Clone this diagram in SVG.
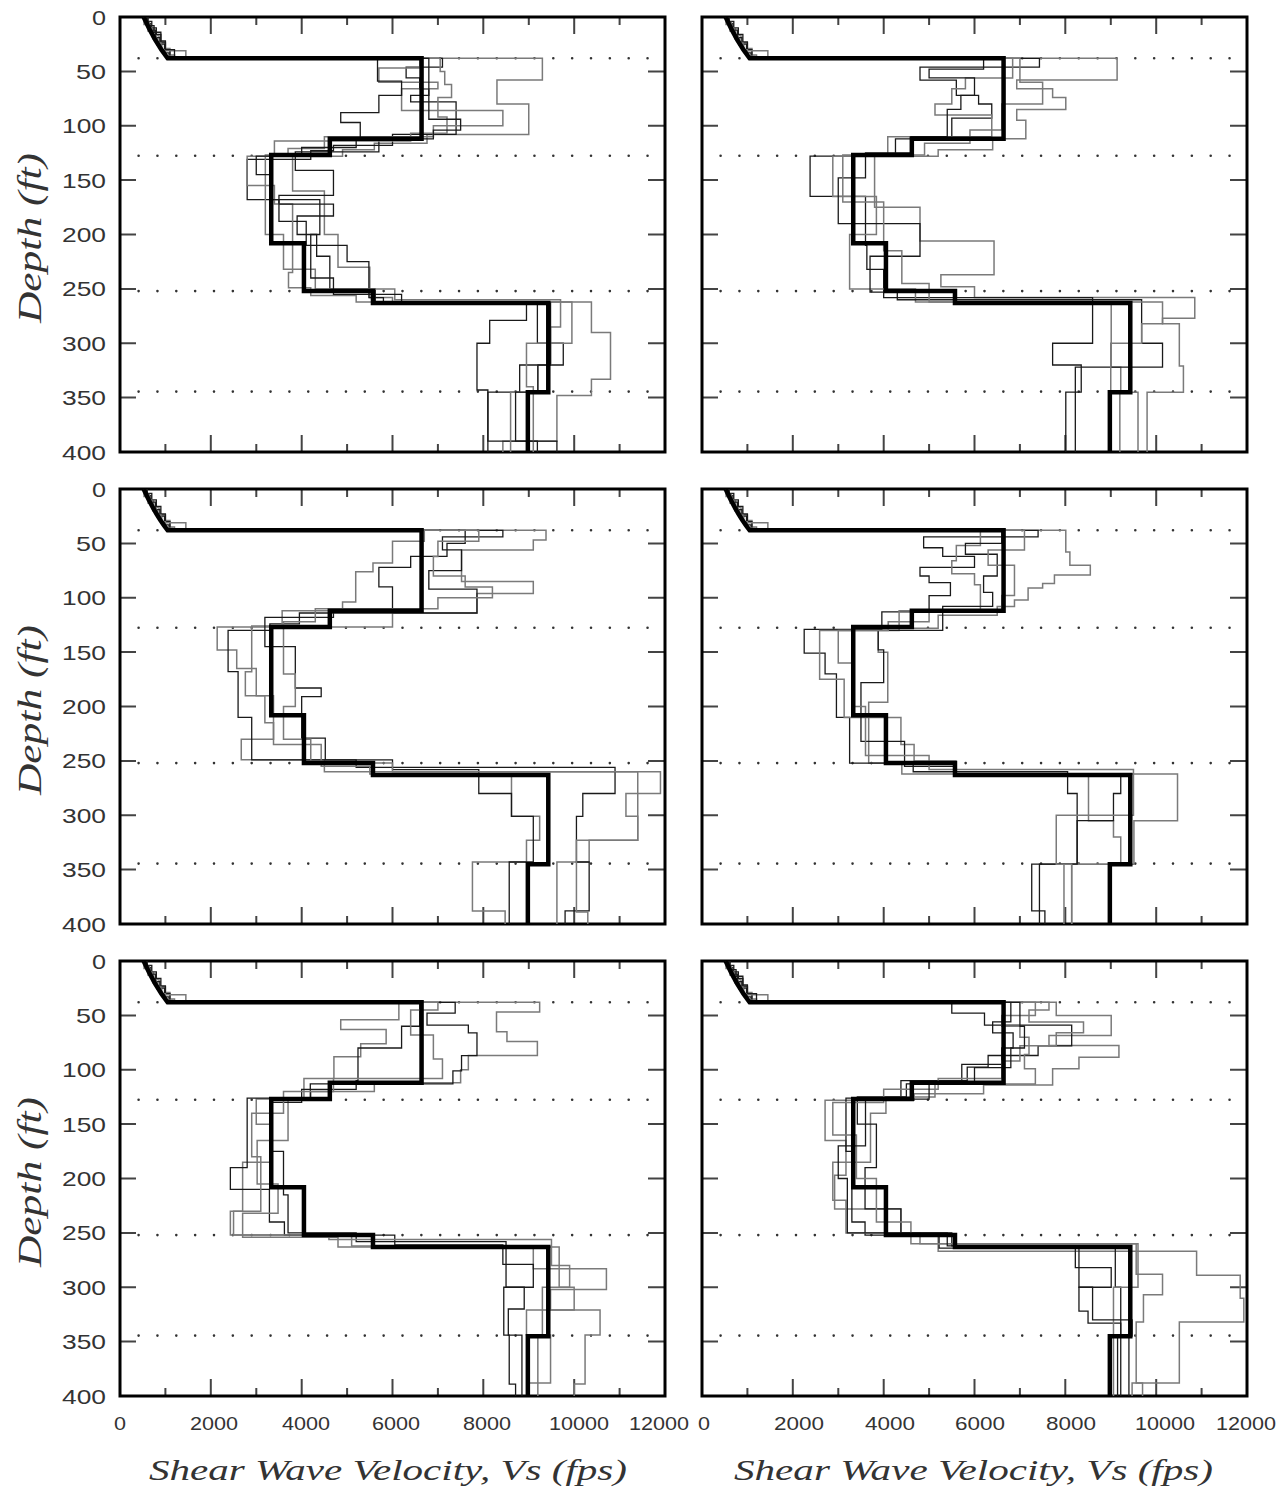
<svg xmlns="http://www.w3.org/2000/svg" xmlns:xlink="http://www.w3.org/1999/xlink" width="1286" height="1492" viewBox="0 0 1286 1492">
<style>
.border{fill:none;stroke:#000;stroke-width:3}
.tick{fill:none;stroke:#444;stroke-width:2}
.dots{fill:none;stroke:#333;stroke-width:2.6;stroke-linecap:round;stroke-dasharray:0 18.85}
.thin{fill:none;stroke:#1a1a1a;stroke-width:1.3;vector-effect:non-scaling-stroke}
.gray{fill:none;stroke:#7a7a7a;stroke-width:1.5;vector-effect:non-scaling-stroke}
.base{fill:none;stroke:#000;stroke-width:4.5;vector-effect:non-scaling-stroke}
.ylab{font-family:"Liberation Sans",Arial,sans-serif;font-size:21px;fill:#333;text-anchor:end}
.xlab{font-family:"Liberation Sans",Arial,sans-serif;font-size:19px;fill:#333;text-anchor:middle}
.title{font-family:"Liberation Serif","Times New Roman",serif;font-style:italic;fill:#333}
</style>
<defs>
<g id="frame">
<line class="dots" x1="18.6" y1="41.3" x2="528" y2="41.3"/>
<line class="dots" x1="18.6" y1="138.7" x2="528" y2="138.7"/>
<line class="dots" x1="18.6" y1="274.1" x2="528" y2="274.1"/>
<line class="dots" x1="18.6" y1="374.6" x2="528" y2="374.6"/>
<path class="tick" d="M45.4 0v8M90.8 0v17M136.3 0v8M181.7 0v17M227.1 0v8M272.5 0v17M317.9 0v8M363.3 0v17M408.8 0v8M454.2 0v17M499.6 0v8"/>
<path class="tick" d="M45.4 435v-8M90.8 435v-17M136.3 435v-8M181.7 435v-17M227.1 435v-8M272.5 435v-17M317.9 435v-8M363.3 435v-17M408.8 435v-8M454.2 435v-17M499.6 435v-8"/>
<path class="tick" d="M0 54.4h16M0 108.8h16M0 163.1h16M0 217.5h16M0 271.9h16M0 326.3h16M0 380.6h16"/>
<path class="tick" d="M545 54.4h-17M545 108.8h-17M545 163.1h-17M545 217.5h-17M545 271.9h-17M545 326.3h-17M545 380.6h-17"/>
<rect class="border" x="0" y="0" width="545" height="435"/>
</g>
<path id="base" class="base" d="M5.2 0C6.5 12 8.6 28 10.5 38H66.4V112H46.2V127H33.3V208H40.5V252H55.7V263H94.3V345H89.8V400"/>
</defs>
<rect width="1286" height="1492" fill="#fff"/>

<g id="panel-top-left" transform="translate(120,17)">
<use xlink:href="#frame"/>
<g transform="scale(4.5417,1.0875)">
<path class="gray" d="M5.6 0V5H6.4V11H7.4V17H8.6V24H10V29H11V35H12V38H93V58H83V80H90V108H67.6V116H56V122H49V128H38V160H45V200H48V230H55V258H60V262H103.8V290H108V333H103.8V348H96.2V390H84.3V400"/>
<path class="thin" d="M6 0V4H7V10H8V16H9V23H10V30H11V38H71V46H63V56H66V66H68V72H64V78H74V108H60V118H47V123H42V131H28V168H35V188H41V210H50V225H54.8V258H58V262H91.9V300H97.6V320H88V345H81V390H91.9V400"/>
<path class="gray" d="M5.3 0V7H6.2V13H7.2V20H8.2V26H9.2V31H14.5V38H66V47H57V60H70V66H62V86H84.3V100H69V110H45V121H37V128H28V155H34V172H38V235H37.1V249H42V256H52V262H99.5V300H89.5V340H91V400"/>
<path class="thin" d="M5.8 0V6H6.8V12H7.8V19H8.8V25H9.8V33H10.8V38H56.7V59H62V72H57V88H48.6V97H52.9V112H57V124H38.6V141H47V164H35V172H47V183H39V200H43.3V220H46.2V250H56.2V262H89.5V279H81.4V300H78.6V343H81V400"/>
<path class="gray" d="M5.4 0V5H6.5V10H7V18H8V24H9V30H10V36H11.5V38H70.5V50H71.5V62H73V74H70V92H72V107H64V114H34V127H32V200H36V232H43V250H60.5V260H97V285H94.8V320H92V345H86V400"/>
<path class="thin" d="M6.2 0V8H7.5V14H9V22H10V30H12V38H68V94H75V104H69V112H52V120H40V128H30V145H33V168H44V200H42V240H47V255H62V263H94.8V320H92V345H87.1V390H96.2V400"/>
<use xlink:href="#base"/>
</g>
</g>

<g id="panel-top-right" transform="translate(702,17)">
<use xlink:href="#frame"/>
<g transform="scale(4.5417,1.0875)">
<path class="gray" d="M5.6 0V5H6.4V11H7.4V17H8.6V24H10V29H11V35H12V38H91.4V58H69.3V66H77.2V74H80.1V85H69.3V95H71.3V112H64V122H52V128H38V175H48V206H64.3V237H52.6V248H60V258H108.5V277H101.4V282H105.1V321H106V345H98V400"/>
<path class="thin" d="M6 0V4H7V10H8V16H9V23H10V30H11V38H74.3V46H48V58H56V72H60.9V80H63.8V93H55V112H42.6V128H23.8V165H36V210H36.3V232H40V258H86V300H77.2V320H83.5V345H80.1V400"/>
<path class="gray" d="M5.3 0V7H6.2V13H7.2V20H8.2V26H9.2V31H14.5V38H68.4V56H58V66H55V80H51.3V90H63.8V110H40.9V128H28.8V165H38.4V200H32.5V250H47V262H90.1V322H92.2V345H96V400"/>
<path class="thin" d="M5.8 0V6H6.8V12H7.8V19H8.8V25H9.8V33H10.8V38H62V48H50V56H60V72H57V85H54V110H46V125H36V148H30V190H48V220H37V253H43V260H96.8V300H101.4V322H82.2V400"/>
<path class="gray" d="M5.4 0V5H6.5V10H7V18H8V24H9V30H10V36H11.5V38H70V60H75V80H66V104H59V116H49V127H31V170H40V215H44V245H50V262H101.4V282H96.8V300H90V345H92V400"/>
<use xlink:href="#base"/>
</g>
</g>

<g id="panel-middle-left" transform="translate(120,489)">
<use xlink:href="#frame"/>
<g transform="scale(4.5417,1.0875)">
<path class="gray" d="M5.6 0V5H6.4V11H7.4V17H8.6V24H10V29H11V35H12V38H93.8V47H91V56H75.2V85H91V96H78.6V114H60V127H21.4V148H25.7V165H30V190H33.8V230H26.7V249H45V260H119V280H111.4V301H114V323H103.3V343H96.2V400"/>
<path class="thin" d="M6 0V4H7V10H8V16H9V23H10V30H11V38H84.3V44H71V56H75.2V75H68V92H78.6V114H39.5V124H33V130H23.8V168H26V210H29V249H52V256H109V280H101.9V301H100.5V343H103.3V388H98V400"/>
<path class="gray" d="M5.3 0V7H6.2V13H7.2V20H8.2V26H9.2V31H14.5V38H67V48H60V68H55.7V76H51.9V104H49V112H35.7V126H29V168H27.6V190H31.9V215H33.8V235H44.3V255H55V262H86.2V301H92.4V323H89.5V343H77.6V388H84.8V400"/>
<path class="thin" d="M5.8 0V6H6.8V12H7.8V19H8.8V25H9.8V33H10.8V38H76V50H72V62H64V72H57V90H60V110H47V118H31.9V145H38.6V183H44.3V191H40V229H45.2V249H60V258H79V280H86.2V301H91V343H85.7V400"/>
<path class="gray" d="M5.4 0V5H6.5V10H7V18H8V24H9V30H10V36H11.5V38H79V48H70V62H69V80H76V90H82V100H70V110H43V122H36V170H38.6V200H36V230H42V252H60V260H114V323H100.5V389H103V400"/>
<use xlink:href="#base"/>
</g>
</g>

<g id="panel-middle-right" transform="translate(702,489)">
<use xlink:href="#frame"/>
<g transform="scale(4.5417,1.0875)">
<path class="gray" d="M5.6 0V5H6.4V11H7.4V17H8.6V24H10V29H11V35H12V38H80.1V58H81V70H85.5V79H77.6V87H75V91H71.8V102H68.8V108H65V116H52V128H38.8V150H40.9V196H36.7V252H44V262H104.7V305H95.1V345H81.4V400"/>
<path class="thin" d="M6 0V4H7V10H8V16H9V23H10V30H11V38H74V44H48.8V54H53V62H60V72H48V80H50V86H54.7V98H50V113H39.6V129H22.5V151H27.1V170H29.6V210H32.5V252H46.5V260H80.5V280H82.6V345H72.6V388H75.5V400"/>
<path class="gray" d="M5.3 0V7H6.2V13H7.2V20H8.2V26H9.2V31H14.5V38H61.3V52H56V66H55V78H60V88H61.3V112H43.4V130H25.9V175H31.3V210H43.8V235H46.7V250H55.9V262H85.1V305H90.6V320H92.2V345H79.7V400"/>
<path class="thin" d="M5.8 0V6H6.8V12H7.8V19H8.8V25H9.8V33H10.8V38H66V50H58V60H65V80H62V95H64V108H53V130H38.8V148H40V178H35V232H44.6V255H55.9V264H92.2V280H90.6V305H82.6V345H74.3V400"/>
<path class="gray" d="M5.4 0V5H6.5V10H7V18H8V24H9V30H10V36H11.5V38H71V56H63V70H68.8V98H66V112H50V122H41V130H30V160H33V200H36V245H50V258H95V300H78V345H81.4V400"/>
<use xlink:href="#base"/>
</g>
</g>

<g id="panel-bottom-left" transform="translate(120,961)">
<use xlink:href="#frame"/>
<g transform="scale(4.5417,1.0875)">
<path class="gray" d="M5.6 0V5H6.4V11H7.4V17H8.6V24H10V29H11V35H12V38H92.4V47H82.9V65H85.2V74H91.9V87H76.7V100H75V112H56V120H42V127H30V150H33V185H27V230H24.3V252H51V262H91V283H107.1V302H94.8V321H105.7V344H102.4V389H100V400"/>
<path class="thin" d="M6 0V4H7V10H8V16H9V23H10V30H11V38H73.8V48H67.6V59H76.7V66H78.6V87H75.2V101H73.3V113H41.9V126H28V190H24.3V210H32.9V240H36.2V252H60.5V261H84.3V279H91V300H84.5V344H85.7V389H87.1V400"/>
<path class="gray" d="M5.3 0V7H6.2V13H7.2V20H8.2V26H9.2V31H14.5V38H61.4V54H48.6V63H58.6V76H53V88H47.1V108H40.5V126H37V165H30.2V205H34.8V232H27V254H48V263H96.7V300H100V321H89.5V344H94.8V388H90V400"/>
<path class="thin" d="M5.8 0V6H6.8V12H7.8V19H8.8V25H9.8V33H10.8V38H66V60H62V80H52.4V110H52V118H40V130H33V175H36V215H37V250H52V258H85V300H89V320H85.5V344H88.5V400"/>
<path class="gray" d="M5.4 0V5H6.5V10H7V18H8V24H9V30H10V36H11.5V38H70V45H64V68H69V90H71V108H47V120H36V140H29V180H31V230H25V252H46V256H95V280H99V300H93V344H92V400"/>
<use xlink:href="#base"/>
</g>
</g>

<g id="panel-bottom-right" transform="translate(702,961)">
<use xlink:href="#frame"/>
<g transform="scale(4.5417,1.0875)">
<path class="gray" d="M5.6 0V5H6.4V11H7.4V17H8.6V24H10V29H11V35H12V38H78V50H90.1V68.5H76.4V77.7H91.8V88.4H83V99H77.2V114H62V122H46.7V128H27.1V165H31.7V197H29.2V228H43.8V252H52V267H108.9V289H118.5V310H119.3V332H105.1V388H94.7V400"/>
<path class="thin" d="M6 0V4H7V10H8V16H9V23H10V30H11V38H55V48H62.2V59H81.4V78H74V86.9H63V97.5H58.4V110H43.8V126H31.7V175H33V240H35.9V252H52.2V264H82.2V282H90.1V300H83V322H85V333H92.2V400"/>
<path class="gray" d="M5.3 0V7H6.2V13H7.2V20H8.2V26H9.2V31H14.5V38H73.4V50H66V60H70V70H72V86H71V99H73.4V113H51.3V125H40.5V140H37.1V185H28.8V220H31.7V250H48V260H95.6V288H101.4V307H97.2V332H95.6V388H97V400"/>
<path class="thin" d="M5.8 0V6H6.8V12H7.8V19H8.8V25H9.8V33H10.8V38H68V56H64V66H68.5V80H66V95H57.2V113H45V125H34.2V150H38.4V190H35.9V228H43.8V250H55V262H91V300H92.2V345H91.5V400"/>
<path class="gray" d="M5.4 0V5H6.5V10H7V18H8V24H9V30H10V36H11.5V38H76.4V45H72V56H84V66H78V78H70V92H66V108H52V118H40V130H28.8V160H34V200H38.4V240H46V260H96V300H90.6V400"/>
<path class="thin" d="M6.2 0V8H7.5V14H9V22H10V30H12V38H70V60H71V80H68V98H60V112H50V127H36V170H30V200H32V250H54V262H83V300H86V330H94.7V345H94V400"/>
<use xlink:href="#base"/>
</g>
</g>

<g id="y-labels">
<text class="ylab" x="106" y="24.5" textLength="14" lengthAdjust="spacingAndGlyphs">0</text>
<text class="ylab" x="106" y="78.9" textLength="30" lengthAdjust="spacingAndGlyphs">50</text>
<text class="ylab" x="106" y="133.3" textLength="44" lengthAdjust="spacingAndGlyphs">100</text>
<text class="ylab" x="106" y="187.6" textLength="44" lengthAdjust="spacingAndGlyphs">150</text>
<text class="ylab" x="106" y="242" textLength="44" lengthAdjust="spacingAndGlyphs">200</text>
<text class="ylab" x="106" y="296.4" textLength="44" lengthAdjust="spacingAndGlyphs">250</text>
<text class="ylab" x="106" y="350.8" textLength="44" lengthAdjust="spacingAndGlyphs">300</text>
<text class="ylab" x="106" y="405.1" textLength="44" lengthAdjust="spacingAndGlyphs">350</text>
<text class="ylab" x="106" y="459.5" textLength="44" lengthAdjust="spacingAndGlyphs">400</text>
<text class="ylab" x="106" y="496.5" textLength="14" lengthAdjust="spacingAndGlyphs">0</text>
<text class="ylab" x="106" y="550.9" textLength="30" lengthAdjust="spacingAndGlyphs">50</text>
<text class="ylab" x="106" y="605.3" textLength="44" lengthAdjust="spacingAndGlyphs">100</text>
<text class="ylab" x="106" y="659.6" textLength="44" lengthAdjust="spacingAndGlyphs">150</text>
<text class="ylab" x="106" y="714" textLength="44" lengthAdjust="spacingAndGlyphs">200</text>
<text class="ylab" x="106" y="768.4" textLength="44" lengthAdjust="spacingAndGlyphs">250</text>
<text class="ylab" x="106" y="822.8" textLength="44" lengthAdjust="spacingAndGlyphs">300</text>
<text class="ylab" x="106" y="877.1" textLength="44" lengthAdjust="spacingAndGlyphs">350</text>
<text class="ylab" x="106" y="931.5" textLength="44" lengthAdjust="spacingAndGlyphs">400</text>
<text class="ylab" x="106" y="968.5" textLength="14" lengthAdjust="spacingAndGlyphs">0</text>
<text class="ylab" x="106" y="1022.9" textLength="30" lengthAdjust="spacingAndGlyphs">50</text>
<text class="ylab" x="106" y="1077.3" textLength="44" lengthAdjust="spacingAndGlyphs">100</text>
<text class="ylab" x="106" y="1131.6" textLength="44" lengthAdjust="spacingAndGlyphs">150</text>
<text class="ylab" x="106" y="1186" textLength="44" lengthAdjust="spacingAndGlyphs">200</text>
<text class="ylab" x="106" y="1240.4" textLength="44" lengthAdjust="spacingAndGlyphs">250</text>
<text class="ylab" x="106" y="1294.8" textLength="44" lengthAdjust="spacingAndGlyphs">300</text>
<text class="ylab" x="106" y="1349.1" textLength="44" lengthAdjust="spacingAndGlyphs">350</text>
<text class="ylab" x="106" y="1403.5" textLength="44" lengthAdjust="spacingAndGlyphs">400</text>
</g>

<g id="x-labels">
<text class="xlab" x="120" y="1430" textLength="12" lengthAdjust="spacingAndGlyphs">0</text>
<text class="xlab" x="214" y="1430" textLength="48" lengthAdjust="spacingAndGlyphs">2000</text>
<text class="xlab" x="306" y="1430" textLength="48" lengthAdjust="spacingAndGlyphs">4000</text>
<text class="xlab" x="396" y="1430" textLength="48" lengthAdjust="spacingAndGlyphs">6000</text>
<text class="xlab" x="487" y="1430" textLength="48" lengthAdjust="spacingAndGlyphs">8000</text>
<text class="xlab" x="579" y="1430" textLength="60" lengthAdjust="spacingAndGlyphs">10000</text>
<text class="xlab" x="659" y="1430" textLength="60" lengthAdjust="spacingAndGlyphs">12000</text>
<text class="xlab" x="704" y="1430" textLength="12" lengthAdjust="spacingAndGlyphs">0</text>
<text class="xlab" x="799" y="1430" textLength="50" lengthAdjust="spacingAndGlyphs">2000</text>
<text class="xlab" x="890" y="1430" textLength="50" lengthAdjust="spacingAndGlyphs">4000</text>
<text class="xlab" x="980" y="1430" textLength="50" lengthAdjust="spacingAndGlyphs">6000</text>
<text class="xlab" x="1071" y="1430" textLength="50" lengthAdjust="spacingAndGlyphs">8000</text>
<text class="xlab" x="1165" y="1430" textLength="60" lengthAdjust="spacingAndGlyphs">10000</text>
<text class="xlab" x="1246" y="1430" textLength="60" lengthAdjust="spacingAndGlyphs">12000</text>
</g>

<g id="axis-titles">
<text class="title" x="149" y="1480" font-size="29" textLength="478" lengthAdjust="spacingAndGlyphs">Shear Wave Velocity, Vs (fps)</text>
<text class="title" x="734" y="1480" font-size="29" textLength="479" lengthAdjust="spacingAndGlyphs">Shear Wave Velocity, Vs (fps)</text>
<text class="title" transform="translate(41,238) rotate(-90)" text-anchor="middle" font-size="33" textLength="170" lengthAdjust="spacingAndGlyphs">Depth (ft)</text>
<text class="title" transform="translate(41,710) rotate(-90)" text-anchor="middle" font-size="33" textLength="170" lengthAdjust="spacingAndGlyphs">Depth (ft)</text>
<text class="title" transform="translate(41,1182) rotate(-90)" text-anchor="middle" font-size="33" textLength="170" lengthAdjust="spacingAndGlyphs">Depth (ft)</text>
</g>
</svg>
